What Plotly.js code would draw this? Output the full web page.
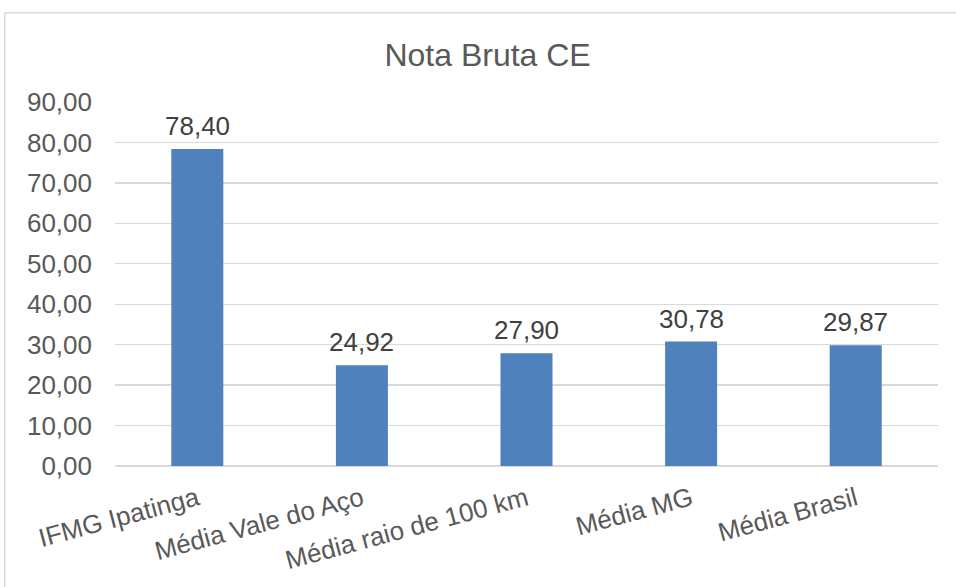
<!DOCTYPE html>
<html>
<head>
<meta charset="utf-8">
<script src="https://cdn.plot.ly/plotly-3.0.1.min.js"></script>
<style>
html,body{margin:0;padding:0;background:#fff;}
#chart{width:956px;height:587px;}
</style>
</head>
<body>
<div id="chart"></div>
<script>
const categories = ["IFMG Ipatinga", "Média Vale do Aço", "Média raio de 100 km", "Média MG", "Média Brasil"];
const values = [78.40, 24.92, 27.90, 30.78, 29.87];
const yTicks = [0, 10, 20, 30, 40, 50, 60, 70, 80, 90];
const yTickLabels = yTicks.map(v => v.toFixed(2).replace('.', ','));
const valueLabels = values.map(v => v.toFixed(2).replace('.', ','));

const FONT = 'Liberation Sans, Arial, sans-serif';

const trace = {
  type: 'bar',
  x: categories,
  y: values,
  marker: {color: '#4F81BD'},
  hoverinfo: 'none'
};

const annotations = categories.map((c, i) => ({
  x: c, y: values[i], xref: 'x', yref: 'y',
  text: valueLabels[i],
  showarrow: false,
  yanchor: 'bottom',
  yshift: 6,
  font: {family: FONT, size: 26, color: '#404040'}
}));

const layout = {
  width: 956, height: 587,
  margin: {l: 115, r: 18, t: 102, b: 121},
  paper_bgcolor: '#ffffff',
  plot_bgcolor: '#ffffff',
  showlegend: false,
  bargap: 0.684,
  font: {family: FONT, color: '#595959'},
  title: {
    text: 'Nota Bruta CE',
    font: {family: FONT, size: 32, color: '#595959'},
    x: 0.51, xref: 'container', xanchor: 'center',
    y: 0.906, yref: 'container', yanchor: 'middle'
  },
  xaxis: {
    type: 'category',
    tickangle: -15,
    tickfont: {size: 26, color: '#595959'},
    showgrid: false,
    showline: false,
    zeroline: false,
    ticks: '',
    ticklabelstandoff: 12
  },
  yaxis: {
    range: [0, 90],
    tickmode: 'array',
    tickvals: yTicks,
    ticktext: yTickLabels,
    tickfont: {size: 26, color: '#595959'},
    showgrid: true,
    gridcolor: '#D9D9D9',
    gridwidth: 1.3,
    zeroline: true,
    zerolinecolor: '#D9D9D9',
    zerolinewidth: 1.3,
    showline: false,
    ticks: '',
    ticklabelstandoff: 22
  },
  annotations: annotations,
  shapes: [
    {type: 'line', xref: 'paper', yref: 'paper', x0: -0.134, x1: 1.1, y0: 1.245, y1: 1.245, line: {color: '#D9D9D9', width: 1.5}},
    {type: 'line', xref: 'paper', yref: 'paper', x0: -0.134, x1: -0.134, y0: 1.245, y1: -0.4, line: {color: '#D9D9D9', width: 1.5}}
  ]
};

Plotly.newPlot('chart', [trace], layout, {displayModeBar: false, staticPlot: true});
</script>
</body>
</html>
